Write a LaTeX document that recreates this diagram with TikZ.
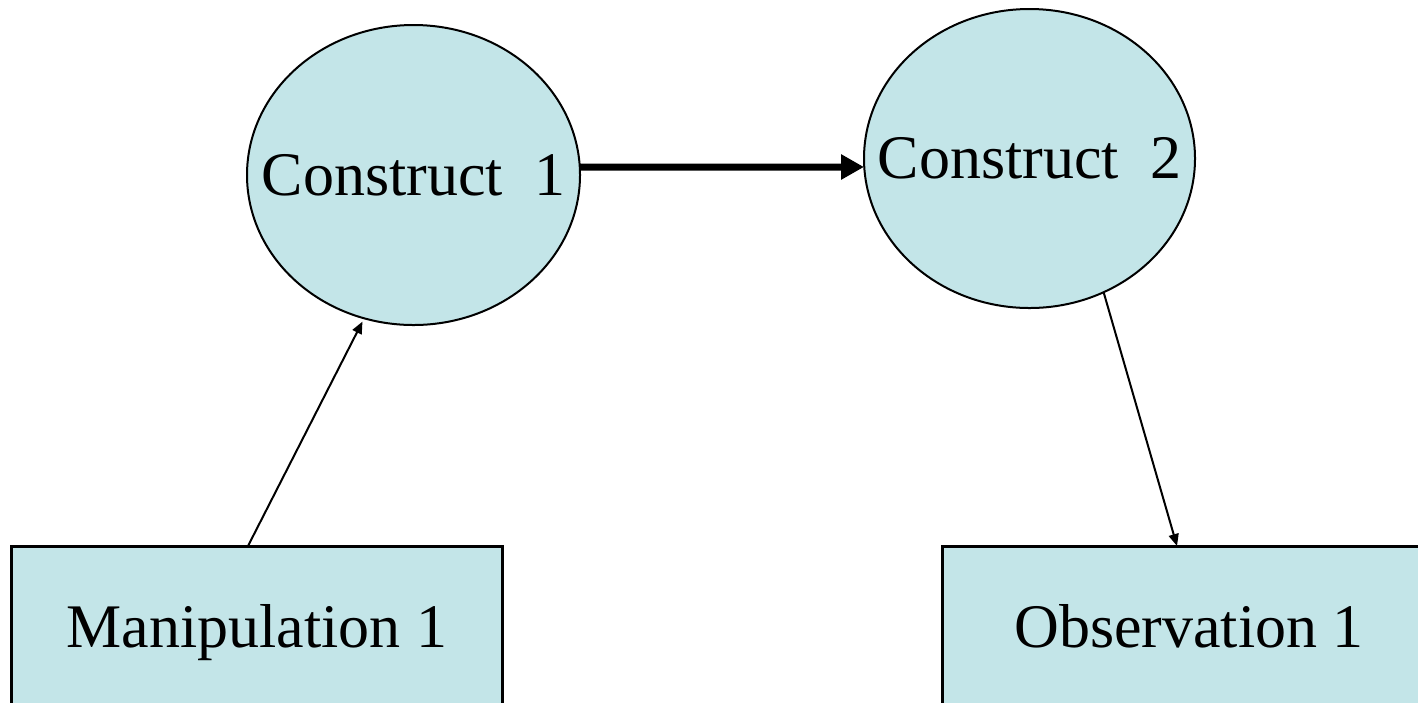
\documentclass[tikz,border=0pt]{standalone}
\usepackage{fontspec}
\setmainfont{Liberation Serif}
\usetikzlibrary{shapes.geometric,arrows.meta}
\definecolor{fillblue}{RGB}{195,229,232}
\begin{document}
\begin{tikzpicture}[x=0.4pt,y=-0.4pt,
  construct/.style={ellipse,draw=black,line width=0.8pt,fill=fillblue,inner sep=0pt,outer sep=0pt,font=\fontsize{24.8}{29}\selectfont},
  measure/.style={rectangle,draw=black,line width=1.2pt,fill=fillblue,inner sep=0pt,outer sep=0pt,text height=16.5pt,text depth=0pt,font=\fontsize{24.8}{29}\selectfont},
  mainarrow/.style={line width=2.8pt,-{Triangle[length=9.2pt,width=9.6pt]}},
  thinarrow/.style={line width=0.8pt,-{Triangle[length=4.8pt,width=4pt]}}]
\useasboundingbox (0,0) rectangle (1418,702);
\clip (0,0) rectangle (1418,702);
\node[construct,minimum width=133.2pt,minimum height=120pt] (c1) at (413.5,175) {\makebox[0pt]{\raisebox{-0.8pt}{Construct\ \ 1}}};
\node[construct,minimum width=132.4pt,minimum height=119.6pt] (c2) at (1029.5,158.5) {\makebox[0pt]{\raisebox{-0.9pt}{Construct\ \ 2}}};
\node[measure,minimum width=196pt,minimum height=64.8pt] (man) at (257,627) {Manipulation 1};
\node[measure,minimum width=197.6pt,minimum height=64.8pt] (obs) at (1189,627) {Observation 1};
\draw[mainarrow] ([yshift=3.2pt]c1.east) -- ([yshift=-3.4pt]c2.west);
\draw[thinarrow,shorten >=1.5pt] ([xshift=-3.6pt]man.north) -- (c1.251);
\draw[thinarrow] (c2.-61.8) -- ([xshift=-4.8pt]obs.north);
\end{tikzpicture}
\end{document}
